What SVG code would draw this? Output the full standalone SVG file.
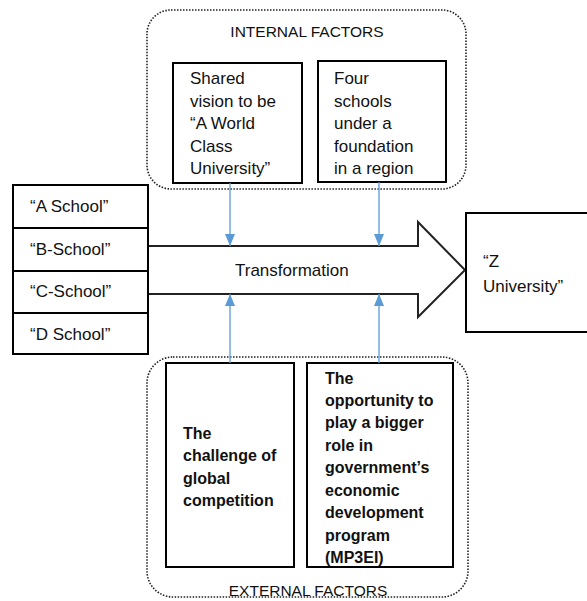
<svg xmlns="http://www.w3.org/2000/svg" width="587" height="601" viewBox="0 0 587 601">
  <defs>
    <marker id="blueHead" viewBox="0 0 12 10" refX="12" refY="5" markerWidth="12" markerHeight="10" markerUnits="userSpaceOnUse" orient="auto">
      <path d="M0,0 L12,5 L0,10 Z" fill="#5b9bd5"/>
    </marker>
    <style>
      .box { fill: #ffffff; stroke: #000000; stroke-width: 2; }
      .group { fill: none; stroke: #222222; stroke-width: 1.6; stroke-dasharray: 1.5 1.5; }
      .txt { font-family: "Liberation Sans", Arial, sans-serif; font-size: 17px; fill: #111111; }
      .bold { font-weight: bold; font-size: 16px; }
      .head { font-family: "Liberation Sans", Arial, sans-serif; font-size: 15.5px; fill: #111111; text-anchor: middle; }
      .link { stroke: #5b9bd5; stroke-width: 1.3; fill: none; }
    </style>
  </defs>
  <rect width="587" height="601" fill="#ffffff"/>

  <!-- Internal factors cluster -->
  <g id="internal-factors">
    <rect class="group" x="147" y="10" width="319" height="179" rx="24" ry="24"/>
    <text class="head" x="307" y="37">INTERNAL FACTORS</text>
  </g>
  <g id="shared-vision">
    <rect class="box" x="173" y="63" width="129" height="120"/>
    <text class="txt" x="190" y="84">Shared</text>
    <text class="txt" x="190" y="107">vision to be</text>
    <text class="txt" x="190" y="129">“A World</text>
    <text class="txt" x="190" y="152">Class</text>
    <text class="txt" x="190" y="174">University”</text>
  </g>
  <g id="four-schools">
    <rect class="box" x="318" y="61" width="128" height="121"/>
    <text class="txt" x="334" y="84">Four</text>
    <text class="txt" x="334" y="107">schools</text>
    <text class="txt" x="334" y="129">under a</text>
    <text class="txt" x="334" y="152">foundation</text>
    <text class="txt" x="334" y="174">in a region</text>
  </g>

  <!-- External factors cluster -->
  <g id="external-factors">
    <rect class="group" x="147" y="357" width="321" height="240" rx="26" ry="26"/>
    <text class="head" x="308" y="596">EXTERNAL FACTORS</text>
  </g>
  <g id="global-competition">
    <rect class="box" x="166" y="363" width="128" height="204"/>
    <text class="txt bold" x="183" y="439">The</text>
    <text class="txt bold" x="183" y="461">challenge of</text>
    <text class="txt bold" x="183" y="484">global</text>
    <text class="txt bold" x="183" y="506">competition</text>
  </g>
  <g id="bigger-role">
    <rect class="box" x="307" y="363" width="146" height="204"/>
    <text class="txt bold" x="325" y="384">The</text>
    <text class="txt bold" x="325" y="406">opportunity to</text>
    <text class="txt bold" x="325" y="428">play a bigger</text>
    <text class="txt bold" x="325" y="451">role in</text>
    <text class="txt bold" x="325" y="473">government’s</text>
    <text class="txt bold" x="325" y="496">economic</text>
    <text class="txt bold" x="325" y="518">development</text>
    <text class="txt bold" x="325" y="541">program</text>
    <text class="txt bold" x="325" y="563">(MP3EI)</text>
  </g>

  <!-- Transformation block arrow -->
  <g id="transformation">
    <polygon points="148,246 418,246 418,222 465,270 418,317 418,294 148,294" fill="#ffffff" stroke="none"/>
    <polyline points="148,246 418,246 418,222 465,270 418,317 418,294 148,294" fill="none" stroke="#222222" stroke-width="2"/>
    <text class="txt" x="235" y="276">Transformation</text>
  </g>

  <!-- Source schools -->
  <g id="schools">
    <rect class="box" x="13" y="185" width="135" height="169"/>
    <line x1="13" y1="228" x2="148" y2="228" stroke="#000" stroke-width="2"/>
    <line x1="13" y1="271" x2="148" y2="271" stroke="#000" stroke-width="2"/>
    <line x1="13" y1="313" x2="148" y2="313" stroke="#000" stroke-width="2"/>
    <text class="txt" x="30" y="212">“A School”</text>
    <text class="txt" x="30" y="255">“B-School”</text>
    <text class="txt" x="30" y="297">“C-School”</text>
    <text class="txt" x="30" y="340">“D School”</text>
  </g>

  <!-- Target -->
  <g id="z-university">
    <rect class="box" x="466" y="213" width="140" height="119"/>
    <text class="txt" x="483" y="267">“Z</text>
    <text class="txt" x="483" y="292">University”</text>
  </g>

  <!-- Factor influences -->
  <g id="connectors">
    <line class="link" x1="230" y1="183" x2="230" y2="246" marker-end="url(#blueHead)"/>
    <line class="link" x1="379" y1="182" x2="379" y2="246" marker-end="url(#blueHead)"/>
    <line class="link" x1="230" y1="363" x2="230" y2="294" marker-end="url(#blueHead)"/>
    <line class="link" x1="379" y1="363" x2="379" y2="294" marker-end="url(#blueHead)"/>
  </g>
</svg>
